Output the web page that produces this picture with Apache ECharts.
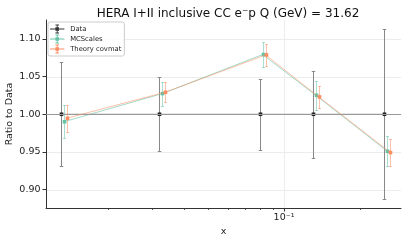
<!DOCTYPE html>
<html><head><meta charset="utf-8">
<script src="https://cdn.jsdelivr.net/npm/echarts@6/dist/echarts.min.js"></script>
<style>html,body{margin:0;padding:0;background:#fff}#c{width:407px;height:243px}</style>
</head><body><div id="c"></div>
<script>
// ---- data ----
const xValues = [0.013, 0.032, 0.08, 0.13, 0.25];
const dataRatio = [1, 1, 1, 1, 1];
const dataErr = [0.069, 0.049, 0.047, 0.058, 0.113];
const mcValues = [0.990, 1.0274, 1.0792, 1.0252, 0.9509];
const mcErr = [0.022, 0.016, 0.017, 0.019, 0.020];
const thValues = [0.9947, 1.0292, 1.0787, 1.023, 0.9492];
const thErr = [0.018, 0.0135, 0.015, 0.015, 0.018];
const yTicks = [0.90, 0.95, 1.00, 1.05, 1.10];
const xMajorTicks = [0.1];
const xMinorTicks = [0.02, 0.03, 0.04, 0.05, 0.06, 0.07, 0.08, 0.09, 0.2];
const xMin = 0.01137, xMax = 0.291, yMin = 0.8757, yMax = 1.125;

const FONT = 'DejaVu Sans';
const TEAL = '#66c2a5', ORANGE = '#fc8d62';
const MC_SHIFT = 1.028, TH_SHIFT = 1.056;

function errSeries(name, ys, es, shift, barColor, markColor, capW, size, z) {
  return {
    name, type: 'custom', z, clip: false,
    data: xValues.map((x, i) => [x * shift, ys[i], es[i]]),
    encode: { x: 0, y: 1 },
    renderItem(params, api) {
      const x = api.value(0), y = api.value(1), e = api.value(2);
      const t = api.coord([x, y + e]), b = api.coord([x, y - e]), c = api.coord([x, y]);
      const px = Math.round(c[0]) + 0.5;
      const ty = Math.round(t[1]) + 0.5, by = Math.round(b[1]) + 0.5;
      const st = { stroke: barColor, lineWidth: 1 };
      return { type: 'group', children: [
        { type: 'line', shape: { x1: px, y1: ty, x2: px, y2: by }, style: st },
        { type: 'line', shape: { x1: px - capW / 2, y1: ty, x2: px + capW / 2, y2: ty }, style: st },
        { type: 'line', shape: { x1: px - capW / 2, y1: by, x2: px + capW / 2, y2: by }, style: st },
        { type: 'rect', shape: { x: px - size / 2, y: c[1] - size / 2, width: size, height: size }, style: { fill: markColor } }
      ]};
    }
  };
}
function lineSeries(name, ys, shift, color, z, extra) {
  return Object.assign({
    name, type: 'line', z, showSymbol: false, silent: true,
    data: xValues.map((x, i) => [x * shift, ys[i]]),
    lineStyle: { color, width: 1 }, itemStyle: { color }
  }, extra || {});
}

const icon = 'path://M0 4.5H16V5.5H0Z M7.5 0H8.5V10H7.5Z M6 0H10V1H6Z M6 9H10V10H6Z M6 3H10V7H6Z';

const option = {
  animation: false,
  backgroundColor: '#fff',
  title: {
    text: 'HERA I+II inclusive CC e\u207Bp Q (GeV) = 31.62',
    left: 223, textAlign: 'center', top: 3,
    textStyle: { fontFamily: FONT, fontSize: 12, fontWeight: 'normal', color: '#111' }
  },
  legend: {
    orient: 'vertical', left: 48, top: 22,
    itemWidth: 16, itemHeight: 9, itemGap: 1,
    padding: [2.5, 3, 2.5, 2],
    backgroundColor: 'rgba(255,255,255,0.85)', borderColor: '#ccc', borderWidth: 1, borderRadius: 2,
    textStyle: { fontFamily: FONT, fontSize: 6.8, color: '#222' },
    data: [
      { name: 'Data', icon, itemStyle: { color: '#333' } },
      { name: 'MCScales', icon, itemStyle: { color: TEAL } },
      { name: 'Theory covmat', icon, itemStyle: { color: ORANGE } }
    ],
    selectedMode: false
  },
  grid: { left: 46, right: 6, top: 20, bottom: 35, outerBoundsMode: 'none', containLabel: false },
  xAxis: {
    type: 'log', logBase: 10, min: xMin, max: xMax,
    axisLine: { show: true, lineStyle: { color: '#333', width: 1 } },
    axisTick: { show: false }, splitLine: { show: false }, minorTick: { show: false },
    axisLabel: {
      fontFamily: FONT, fontSize: 9.5, color: '#222', margin: 5,
      formatter: v => (Math.abs(Math.log10(v) + 1) < 1e-6 ? '10\u207B\u00B9' : '')
    },
    name: 'x', nameLocation: 'middle', nameGap: 19, nameMoveOverlap: false,
    nameTextStyle: { fontFamily: FONT, fontSize: 9.5, color: '#222' }
  },
  yAxis: {
    type: 'value', min: yMin, max: yMax,
    axisLine: { show: true, lineStyle: { color: '#333', width: 1 } },
    axisTick: { show: true, length: 3.5, lineStyle: { color: '#333' }, customValues: yTicks },
    axisLabel: { fontFamily: FONT, fontSize: 9.5, color: '#222', margin: 5.5, customValues: yTicks,
      formatter: v => v.toFixed(2) },
    splitLine: { show: false },
    name: 'Ratio to Data', nameLocation: 'middle', nameGap: 31, nameMoveOverlap: false,
    nameTextStyle: { fontFamily: FONT, fontSize: 9.5, color: '#222' }
  },
  series: [
    { // horizontal grid lines
      type: 'custom', z: 0, silent: true, clip: false,
      data: yTicks.map(v => [xMin, v]), encode: { x: 0, y: 1 },
      renderItem(params, api) {
        const cs = params.coordSys;
        const y = Math.round(api.coord([api.value(0), api.value(1)])[1]) + 0.5;
        return { type: 'line', shape: { x1: cs.x, y1: y, x2: cs.x + cs.width, y2: y }, style: { stroke: '#ececec', lineWidth: 1 } };
      }
    },
    { // major x ticks + vertical grid
      type: 'custom', z: 0, silent: true, clip: false,
      data: xMajorTicks.map(v => [v, yMin]), encode: { x: 0, y: 1 },
      renderItem(params, api) {
        const cs = params.coordSys;
        const x = Math.round(api.coord([api.value(0), api.value(1)])[0]) + 0.5;
        const yb = cs.y + cs.height;
        return { type: 'group', children: [
          { type: 'line', shape: { x1: x, y1: cs.y, x2: x, y2: yb }, style: { stroke: '#ececec', lineWidth: 1 } },
          { type: 'line', shape: { x1: x, y1: yb, x2: x, y2: yb + 3.5 }, style: { stroke: '#333', lineWidth: 1 } }
        ]};
      }
    },
    { // minor x ticks
      type: 'custom', z: 3, silent: true, clip: false,
      data: xMinorTicks.map(v => [v, yMin]), encode: { x: 0, y: 1 },
      renderItem(params, api) {
        const cs = params.coordSys;
        const x = Math.round(api.coord([api.value(0), api.value(1)])[0]) + 0.5;
        const yb = cs.y + cs.height;
        return { type: 'line', shape: { x1: x, y1: yb, x2: x, y2: yb + 2 }, style: { stroke: '#333', lineWidth: 0.8 } };
      }
    },
    lineSeries('Data', dataRatio, 1, '#999', 1, {
      markLine: { silent: true, symbol: 'none', label: { show: false },
        lineStyle: { color: '#999', width: 1, type: 'solid' }, data: [{ yAxis: 1 }] }
    }),
    errSeries('Data', dataRatio, dataErr, 1, '#888', '#222', 3.5, 3.6, 2),
    lineSeries('MCScales', mcValues, MC_SHIFT, 'rgba(102,194,165,0.6)', 3),
    errSeries('MCScales', mcValues, mcErr, MC_SHIFT, 'rgba(102,194,165,0.55)', TEAL, 3, 3.6, 4),
    lineSeries('Theory covmat', thValues, TH_SHIFT, 'rgba(252,141,98,0.55)', 5),
    errSeries('Theory covmat', thValues, thErr, TH_SHIFT, 'rgba(252,141,98,0.55)', ORANGE, 3, 3.6, 6)
  ]
};
const chart = echarts.init(document.getElementById('c'), null, { renderer: 'canvas' });
chart.setOption(option);
</script>
</body></html>
